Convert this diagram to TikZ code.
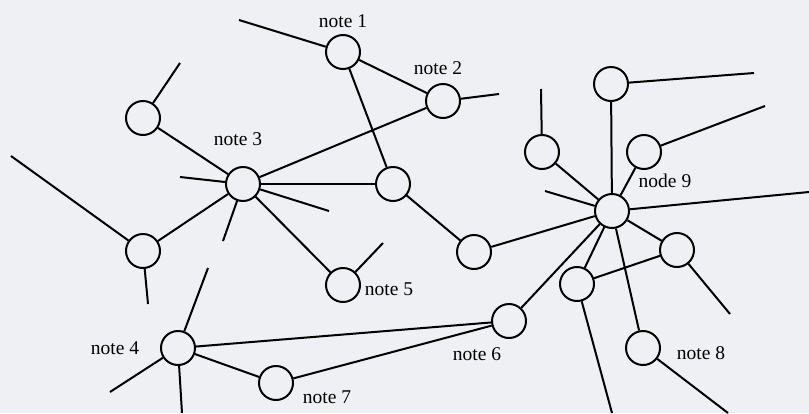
\documentclass[tikz,border=0pt]{standalone}
\usepackage{fontspec}
\setmainfont{Liberation Serif}
\definecolor{bgc}{RGB}{239,240,244}
\begin{document}
\begin{tikzpicture}[x=1pt,y=-1pt,
  nd/.style={circle,draw,line width=2pt,minimum size=34pt,inner sep=0pt},
  lnk/.style={line width=2pt},
  lbl/.style={font=\fontsize{19.5}{19.5}\selectfont,inner sep=0pt}]
\fill[bgc] (0,0) rectangle (809,413);
\useasboundingbox (0,0) rectangle (809,413);
% nodes
\node[nd] (n1) at (343,52) {};
\node[nd] (n2) at (443,101) {};
\node[nd] (n3) at (243,184) {};
\node[nd] (A) at (393,184) {};
\node[nd] (B) at (143,118) {};
\node[nd] (C) at (143,251) {};
\node[nd] (n5) at (343,285) {};
\node[nd] (D) at (474,252) {};
\node[nd] (n9) at (612,211) {};
\node[nd] (E) at (542,152) {};
\node[nd] (F) at (611,84) {};
\node[nd] (G) at (644,152) {};
\node[nd] (H) at (677,250) {};
\node[nd] (I) at (577,284) {};
\node[nd] (n8) at (643,348) {};
\node[nd] (n6) at (509,321) {};
\node[nd] (n4) at (178,348) {};
\node[nd] (n7) at (276,383) {};
% labels
\node[lbl] (l1) at (343,21) {note 1};
\node[lbl] (l2) at (438,68) {note 2};
\node[lbl] (l3) at (238,139) {note 3};
\node[lbl] (l9) at (665,181) {node 9};
\node[lbl] (l5) at (389,289) {note 5};
\node[lbl] (l6) at (477,354) {note 6};
\node[lbl] (l4) at (115,348) {note 4};
\node[lbl] (l7) at (327,397) {note 7};
\node[lbl] (l8) at (701,353) {note 8};
% free ends
\coordinate (f1) at (239,20);
\coordinate (f2) at (499,94);
\coordinate (fB) at (180,63);
\coordinate (f3a) at (180,177);
\coordinate (f3b) at (329,211);
\coordinate (f3c) at (223,241);
\coordinate (f5) at (383,243);
\coordinate (fC1) at (11,156);
\coordinate (fC2) at (148,304);
\coordinate (fE) at (541,89);
\coordinate (fF) at (754,73);
\coordinate (fG) at (765,106);
\coordinate (f9a) at (545,191);
\coordinate (f9b) at (809,192);
\coordinate (fH) at (730,314);
\coordinate (fI) at (612,413);
\coordinate (f8) at (728,413);
\coordinate (f4a) at (208,268);
\coordinate (f4b) at (110,392);
\coordinate (f4c) at (182,413);
% edges
\draw[lnk] (f1) -- (n1);
\draw[lnk] (n2) -- (f2);
\draw[lnk] (fB) -- (B);
\draw[lnk] (f3a) -- (n3);
\draw[lnk] (n3) -- (f3b);
\draw[lnk] (n3) -- (f3c);
\draw[lnk] (n5) -- (f5);
\draw[lnk] (fC1) -- (C);
\draw[lnk] (C) -- (fC2);
\draw[lnk] (E) -- (fE);
\draw[lnk] (F) -- (fF);
\draw[lnk] (G) -- (fG);
\draw[lnk] (f9a) -- (n9);
\draw[lnk] (n9) -- (f9b);
\draw[lnk] (H) -- (fH);
\draw[lnk] (I) -- (fI);
\draw[lnk] (n8) -- (f8);
\draw[lnk] (n4) -- (f4a);
\draw[lnk] (n4) -- (f4b);
\draw[lnk] (n4) -- (f4c);
\draw[lnk] (n1) -- (n2);
\draw[lnk] (n1) -- (A);
\draw[lnk] (n3) -- (n2);
\draw[lnk] (n3) -- (A);
\draw[lnk] (B) -- (n3);
\draw[lnk] (n3) -- (n5);
\draw[lnk] (n3) -- (C);
\draw[lnk] (A) -- (D);
\draw[lnk] (D) -- (n9);
\draw[lnk] (E) -- (n9);
\draw[lnk] (F) -- (n9);
\draw[lnk] (G) -- (n9);
\draw[lnk] (H) -- (n9);
\draw[lnk] (I) -- (n9);
\draw[lnk] (I) -- (H);
\draw[lnk] (n9) -- (n8);
\draw[lnk] (n6) -- (n9);
\draw[lnk] (n4) -- (n6);
\draw[lnk] (n4) -- (n7);
\draw[lnk] (n7) -- (n6);
\end{tikzpicture}
\end{document}
